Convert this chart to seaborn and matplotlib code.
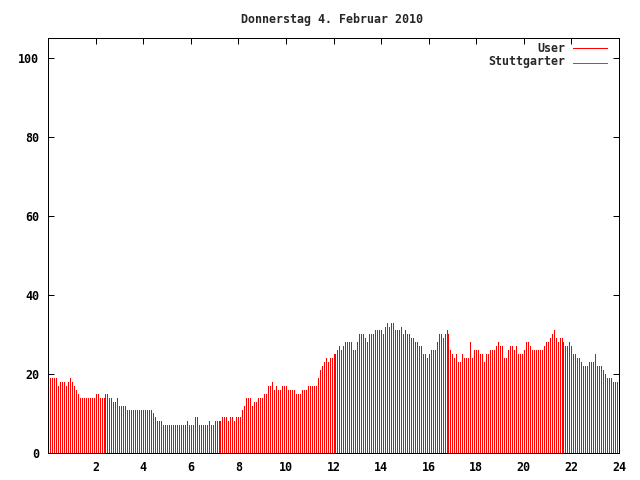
import matplotlib
matplotlib.use("Agg")
import matplotlib.pyplot as plt
from matplotlib.lines import Line2D
import pandas as pd
import seaborn as sns

# Visitors per 5 minute slot (first slot ends 00:05)
user = [
    19, 19, 19, 19, 17, 18, 18, 18, 17, 18, 19, 18, 17, 16, 15,
    14, 14, 14, 14, 14, 14, 14, 14, 15, 15, 14, 14, 14, 15, 15,
    14, 14, 13, 13, 14, 12, 12, 12, 12, 11, 11, 11, 11, 11, 11,
    11, 11, 11, 11, 11, 11, 11, 10, 9, 8, 8, 8, 7, 7, 7,
    7, 7, 7, 7, 7, 7, 7, 7, 7, 8, 7, 7, 7, 9, 9,
    7, 7, 7, 7, 7, 8, 7, 7, 8, 8, 8, 8, 9, 9, 9,
    8, 9, 9, 8, 9, 9, 9, 11, 12, 14, 14, 14, 12, 13, 13,
    14, 14, 14, 15, 15, 17, 17, 18, 16, 17, 16, 16, 17, 17, 17,
    16, 16, 16, 16, 15, 15, 15, 16, 16, 16, 17, 17, 17, 17, 17,
    19, 21, 22, 23, 24, 23, 24, 24, 25, 25, 26, 27, 26, 27, 28,
    28, 28, 28, 26, 26, 28, 30, 30, 30, 29, 28, 30, 30, 30, 31,
    31, 31, 31, 30, 32, 33, 32, 33, 33, 31, 31, 31, 32, 30, 31,
    30, 30, 29, 29, 28, 28, 27, 27, 25, 25, 24, 25, 26, 26, 26,
    28, 30, 30, 29, 30, 31, 30, 26, 25, 24, 25, 23, 23, 25, 24,
    24, 24, 28, 24, 26, 26, 26, 25, 25, 23, 25, 25, 26, 26, 26,
    27, 28, 27, 27, 24, 24, 26, 27, 27, 26, 27, 25, 25, 25, 26,
    28, 28, 27, 26, 26, 26, 26, 26, 26, 27, 28, 28, 29, 30, 31,
    29, 28, 29, 29, 28, 27, 27, 28, 27, 25, 25, 24, 24, 23, 22,
    22, 22, 23, 23, 23, 25, 22, 22, 22, 21, 20, 19, 19, 19, 18,
    18, 18,
]
# Stuttgarter series lies underneath the User impulses
stuttgarter = list(user)
minutes = [5 * (k + 1) for k in range(len(user))]

x_ticks = [2, 4, 6, 8, 10, 12, 14, 16, 18, 20, 22, 24]
y_ticks = [0, 20, 40, 60, 80, 100]

RED = "#ff0000"
BLUE = "#0080ff"
FONT = "DejaVu Sans Mono"
FS = 8.4
PX = 0.72  # one pixel in points at 100 dpi

sns.set_style("ticks")
plt.rcParams["font.family"] = [FONT]
plt.rcParams["font.weight"] = "bold"

df = pd.DataFrame({"hour": [m / 60 for m in minutes], "user": user,
                   "stuttgarter": stuttgarter})

fig = plt.figure(figsize=(6.4, 4.8), dpi=100)
ax = fig.add_axes([48.0 / 640, 1 - 453 / 480, 571 / 640, (453 - 38) / 480])

# impulses, 1 px wide
ax.vlines(df["hour"], 0, df["stuttgarter"], color=BLUE, lw=PX, antialiased=False)
ax.vlines(df["hour"], 0, df["user"], color=RED, lw=PX, antialiased=False)

ax.set_xlim(0, 24)
ax.set_ylim(0, 105)
ax.set_xticks(x_ticks)
ax.set_yticks(y_ticks)
ax.set_xticklabels([str(t) for t in x_ticks])
ax.set_yticklabels([str(t) for t in y_ticks])
ax.tick_params(direction="in", length=4, width=PX, top=True, right=True,
               labelsize=FS, colors="black")
ax.tick_params(axis="y", pad=6.5)
ax.tick_params(axis="x", pad=6)
for s in ax.spines.values():
    s.set_visible(True)
    s.set_linewidth(PX)
    s.set_color("black")
ax.set_xlabel("")
ax.set_ylabel("")

fig.text(332 / 640, 1 - 19 / 480, "Donnerstag 4. Februar 2010", ha="center",
         va="center", fontsize=FS, fontweight="bold")

# gnuplot-style key: (label, colour, text row, line row)
for label, color, y, ly in [("User", RED, 48, 47), ("Stuttgarter", BLUE, 61, 62)]:
    fig.text(565 / 640, 1 - y / 480, label, ha="right", va="center",
             fontsize=FS, fontweight="bold")
    fig.add_artist(Line2D([573 / 640, 607 / 640], [1 - (ly + 0.5) / 480] * 2,
                          color=color, lw=PX, antialiased=False,
                          transform=fig.transFigure))

fig.savefig("out.png", dpi=100)
